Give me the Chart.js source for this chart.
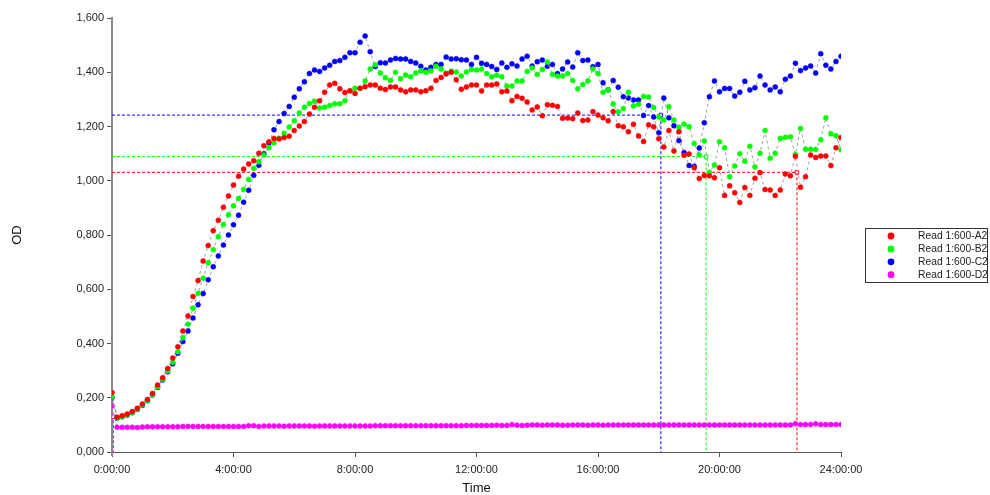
<!DOCTYPE html>
<html>
<head>
<meta charset="utf-8">
<script src="https://cdn.jsdelivr.net/npm/chart.js@4.4.1/dist/chart.umd.min.js"></script>
<style>
  html, body { margin: 0; padding: 0; background: #ffffff; }
  #wrap { width: 990px; height: 495px; }
</style>
</head>
<body>
<div id="wrap"><canvas id="chart" width="990" height="495"></canvas></div>
<script>
// Plate reader kinetic run: one read every 10 minutes over 24 h (145 reads)
const readIntervalMin = 10;
const readCount = 145;

const seriesNames = ['Read 1:600-A2', 'Read 1:600-B2', 'Read 1:600-C2', 'Read 1:600-D2'];
const seriesColors = ['#ff0000', '#00ff00', '#0000ff', '#ff00ff'];

const odA2 = [
  0.219, 0.128, 0.134, 0.140, 0.149, 0.161, 0.177, 0.194, 0.216, 0.247,
  0.274, 0.308, 0.347, 0.388, 0.446, 0.501, 0.573, 0.632, 0.704, 0.761,
  0.816, 0.854, 0.902, 0.944, 0.984, 1.017, 1.043, 1.062, 1.074, 1.101,
  1.129, 1.144, 1.156, 1.154, 1.159, 1.164, 1.185, 1.202, 1.218, 1.246,
  1.271, 1.295, 1.326, 1.353, 1.359, 1.339, 1.325, 1.332, 1.322, 1.341,
  1.347, 1.353, 1.353, 1.341, 1.336, 1.346, 1.346, 1.335, 1.328, 1.335,
  1.335, 1.328, 1.332, 1.341, 1.370, 1.381, 1.394, 1.400, 1.372, 1.337,
  1.346, 1.353, 1.353, 1.331, 1.353, 1.353, 1.357, 1.328, 1.331, 1.295,
  1.311, 1.304, 1.290, 1.261, 1.272, 1.240, 1.280, 1.278, 1.274, 1.230,
  1.231, 1.229, 1.250, 1.222, 1.224, 1.255, 1.242, 1.232, 1.221, 1.255,
  1.203, 1.199, 1.181, 1.208, 1.165, 1.145, 1.206, 1.199, 1.155, 1.124,
  1.185, 1.110, 1.181, 1.094, 1.099, 1.048, 1.008, 1.019, 1.018, 1.011,
  1.048, 0.946, 0.982, 0.956, 0.920, 0.975, 0.946, 1.009, 1.030, 0.968,
  0.966, 0.946, 0.966, 1.025, 1.018, 1.090, 0.976, 1.015, 1.095, 1.086,
  1.091, 1.091, 1.056, 1.122, 1.159
];

const odB2 = [
  0.205, 0.125, 0.130, 0.137, 0.146, 0.158, 0.174, 0.190, 0.211, 0.241,
  0.268, 0.300, 0.331, 0.370, 0.421, 0.471, 0.530, 0.585, 0.641, 0.698,
  0.746, 0.794, 0.839, 0.875, 0.908, 0.935, 0.968, 1.005, 1.046, 1.070,
  1.095, 1.122, 1.140, 1.157, 1.175, 1.198, 1.221, 1.250, 1.271, 1.285,
  1.293, 1.268, 1.271, 1.277, 1.284, 1.284, 1.295, 1.331, 1.341, 1.341,
  1.368, 1.412, 1.428, 1.397, 1.380, 1.370, 1.400, 1.376, 1.390, 1.383,
  1.397, 1.405, 1.400, 1.405, 1.422, 1.412, 1.397, 1.404, 1.401, 1.386,
  1.401, 1.410, 1.408, 1.412, 1.395, 1.383, 1.389, 1.383, 1.349, 1.349,
  1.368, 1.368, 1.403, 1.416, 1.392, 1.410, 1.438, 1.392, 1.386, 1.386,
  1.395, 1.370, 1.339, 1.355, 1.368, 1.412, 1.395, 1.326, 1.335, 1.283,
  1.254, 1.266, 1.326, 1.276, 1.282, 1.311, 1.309, 1.270, 1.235, 1.224,
  1.273, 1.224, 1.197, 1.209, 1.199, 1.137, 1.095, 1.147, 1.031, 1.058,
  1.144, 1.122, 1.015, 1.054, 1.100, 1.072, 1.127, 1.051, 1.101, 1.185,
  1.083, 1.101, 1.156, 1.160, 1.162, 1.097, 1.193, 1.116, 1.116, 1.115,
  1.151, 1.232, 1.173, 1.166, 1.114
];

const odC2 = [
  0.200, 0.125, 0.130, 0.136, 0.145, 0.157, 0.172, 0.189, 0.210, 0.238,
  0.265, 0.296, 0.325, 0.364, 0.407, 0.446, 0.494, 0.543, 0.584, 0.635,
  0.683, 0.723, 0.763, 0.800, 0.838, 0.873, 0.921, 0.965, 1.020, 1.057,
  1.100, 1.140, 1.188, 1.218, 1.248, 1.274, 1.308, 1.339, 1.365, 1.395,
  1.408, 1.403, 1.416, 1.426, 1.440, 1.443, 1.455, 1.472, 1.472, 1.511,
  1.534, 1.476, 1.421, 1.435, 1.434, 1.445, 1.451, 1.449, 1.449, 1.440,
  1.434, 1.422, 1.408, 1.418, 1.429, 1.429, 1.456, 1.449, 1.450, 1.446,
  1.445, 1.429, 1.455, 1.433, 1.429, 1.421, 1.410, 1.434, 1.418, 1.431,
  1.423, 1.449, 1.459, 1.423, 1.439, 1.445, 1.422, 1.429, 1.395, 1.412,
  1.438, 1.419, 1.472, 1.443, 1.445, 1.420, 1.429, 1.361, 1.335, 1.370,
  1.345, 1.310, 1.305, 1.298, 1.298, 1.241, 1.277, 1.235, 1.177, 1.305,
  1.232, 1.203, 1.148, 1.104, 1.056, 1.053, 1.121, 1.214, 1.310, 1.368,
  1.328, 1.340, 1.340, 1.312, 1.326, 1.367, 1.335, 1.343, 1.386, 1.353,
  1.335, 1.346, 1.328, 1.374, 1.386, 1.433, 1.406, 1.416, 1.423, 1.397,
  1.468, 1.426, 1.412, 1.440, 1.459
];

const odD2 = [
  0.170, 0.091, 0.091, 0.091, 0.091, 0.090, 0.092, 0.093, 0.093, 0.093,
  0.093, 0.093, 0.093, 0.093, 0.094, 0.094, 0.094, 0.094, 0.094, 0.094,
  0.094, 0.094, 0.094, 0.094, 0.094, 0.094, 0.094, 0.097, 0.097, 0.094,
  0.096, 0.096, 0.096, 0.096, 0.095, 0.096, 0.096, 0.096, 0.096, 0.096,
  0.095, 0.096, 0.096, 0.096, 0.096, 0.096, 0.096, 0.096, 0.096, 0.096,
  0.096, 0.096, 0.097, 0.097, 0.097, 0.097, 0.097, 0.097, 0.097, 0.097,
  0.097, 0.097, 0.097, 0.097, 0.097, 0.097, 0.097, 0.097, 0.097, 0.097,
  0.098, 0.098, 0.098, 0.098, 0.098, 0.098, 0.099, 0.098, 0.098, 0.101,
  0.099, 0.098, 0.099, 0.100, 0.100, 0.099, 0.100, 0.100, 0.100, 0.099,
  0.099, 0.100, 0.100, 0.100, 0.099, 0.100, 0.100, 0.099, 0.100, 0.100,
  0.100, 0.100, 0.100, 0.100, 0.100, 0.100, 0.100, 0.100, 0.100, 0.100,
  0.100, 0.100, 0.100, 0.100, 0.100, 0.100, 0.100, 0.100, 0.100, 0.100,
  0.100, 0.100, 0.100, 0.100, 0.100, 0.100, 0.100, 0.100, 0.100, 0.100,
  0.100, 0.100, 0.100, 0.100, 0.100, 0.104, 0.101, 0.101, 0.101, 0.104,
  0.101, 0.101, 0.101, 0.101, 0.101
];

// Threshold crossing per well: OD level and the time (h) it is reached
const thresholdOD = [1.031, 1.089, 1.242, 0.130];
const thresholdHours = [22.55, 19.56, 18.07, 0.05];

const xTicks = [0, 4, 8, 12, 16, 20, 24];
const yTicks = [0, 0.2, 0.4, 0.6, 0.8, 1.0, 1.2, 1.4, 1.6];

const FONT = 'Arial, "Liberation Sans", sans-serif';
const wells = [odA2, odB2, odC2, odD2];

function toPoints(values) {
  return values.map((v, i) => ({ x: (i * readIntervalMin) / 60, y: v }));
}

const readDatasets = wells.map((values, k) => ({
  label: seriesNames[k],
  data: toPoints(values.slice(0, readCount)),
  showLine: true,
  borderColor: '#a0a0a0',
  borderWidth: 1,
  borderDash: [3, 3],
  pointRadius: 2.5,
  pointBorderWidth: 0.5,
  pointBackgroundColor: seriesColors[k],
  pointBorderColor: seriesColors[k],
  order: k
}));

const thresholdDatasets = thresholdOD.map((od, k) => ({
  label: 'threshold-' + k,
  data: [{ x: 0, y: od }, { x: thresholdHours[k], y: od }, { x: thresholdHours[k], y: 0 }],
  showLine: true,
  borderColor: seriesColors[k],
  borderWidth: 1,
  borderDash: [3, 2],
  pointStyle: 'rect',
  pointRadius: [0, 2.5, 0],
  pointBorderWidth: 1,
  pointBackgroundColor: '#ffffff',
  pointBorderColor: seriesColors[k],
  order: 10 + k
}));

// Boxed legend to the right of the plot, plus the short stub of the OD axis below zero
const boxedLegend = {
  id: 'boxedLegend',
  afterDraw(chart) {
    const ctx = chart.ctx;
    const area = chart.chartArea;
    ctx.save();
    ctx.strokeStyle = '#8a8a8a';
    ctx.lineWidth = 2;
    ctx.beginPath();
    ctx.moveTo(area.left, area.bottom);
    ctx.lineTo(area.left, area.bottom + 4);
    ctx.stroke();

    const left = 865, top = 228, width = 122, height = 54;
    ctx.fillStyle = '#ffffff';
    ctx.fillRect(left, top, width, height);
    ctx.strokeStyle = '#333333';
    ctx.lineWidth = 1;
    ctx.strokeRect(left + 0.5, top + 0.5, width, height);
    ctx.font = '10.3px ' + FONT;
    ctx.textBaseline = 'middle';
    seriesNames.forEach((name, k) => {
      const y = 236 + k * 12.9;
      ctx.beginPath();
      ctx.fillStyle = seriesColors[k];
      ctx.arc(891, y, 3.4, 0, Math.PI * 2);
      ctx.fill();
      ctx.fillStyle = '#222222';
      ctx.fillText(name, 918, y + 0.5);
    });
    ctx.restore();
  }
};

new Chart(document.getElementById('chart'), {
  type: 'scatter',
  data: { datasets: readDatasets.concat(thresholdDatasets) },
  options: {
    responsive: false,
    animation: false,
    devicePixelRatio: 1,
    layout: { padding: { top: 18, right: 149, bottom: 0, left: 0 } },
    plugins: {
      legend: { display: false },
      tooltip: { enabled: false }
    },
    scales: {
      x: {
        type: 'linear',
        min: 0,
        max: 24,
        afterBuildTicks(scale) { scale.ticks = xTicks.map(v => ({ value: v })); },
        afterFit(scale) { scale.height = 43; },
        ticks: {
          callback: v => v + ':00:00',
          font: { family: FONT, size: 11 },
          color: '#222222',
          padding: 6,
          maxRotation: 0
        },
        grid: { drawOnChartArea: false, drawTicks: true, tickLength: 5, color: '#555555' },
        border: { color: '#555555', width: 1 },
        title: {
          display: true,
          text: 'Time',
          font: { family: FONT, size: 13, lineHeight: 1 },
          color: '#111111',
          padding: { top: 0, bottom: 0 }
        }
      },
      y: {
        min: 0,
        max: 1.6,
        afterBuildTicks(scale) { scale.ticks = yTicks.map(v => ({ value: v })); },
        afterFit(scale) { scale.width = 112; },
        ticks: {
          callback: v => Number(v).toFixed(3).replace('.', ','),
          font: { family: FONT, size: 11 },
          color: '#222222',
          padding: 3
        },
        grid: { drawOnChartArea: false, drawTicks: true, tickLength: 5, color: '#555555' },
        border: { color: '#8a8a8a', width: 2 },
        title: {
          display: true,
          text: 'OD',
          font: { family: FONT, size: 13, lineHeight: 1.2 },
          color: '#111111',
          padding: { top: 10, bottom: 0 }
        }
      }
    }
  },
  plugins: [boxedLegend]
});
</script>
</body>
</html>
